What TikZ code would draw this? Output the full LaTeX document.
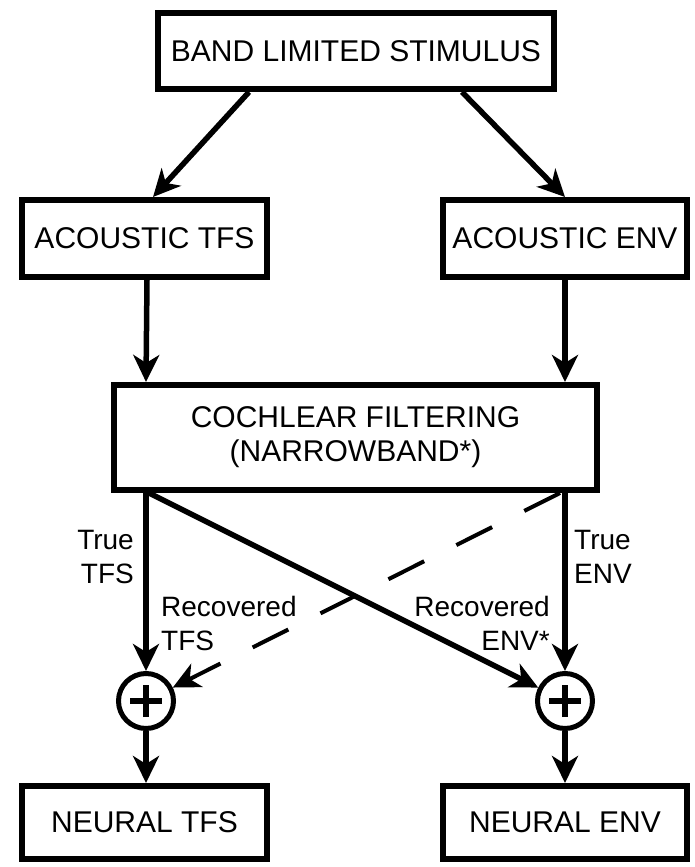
\documentclass[tikz,border=0pt]{standalone}
\usepackage{fontspec}
\setmainfont{Liberation Sans}
\usetikzlibrary{arrows.meta}
\begin{document}
\begin{tikzpicture}[x=1pt,y=-1pt,
  box/.style={draw, line width=6pt, inner sep=0pt, align=center,
              font=\fontsize{30}{34}\selectfont},
  arr/.style={line width=5.5pt, -{Stealth[length=27pt,width=26pt,inset=8pt]}},
  darr/.style={line width=4pt, dash pattern=on 40pt off 36pt,
               -{Stealth[length=27pt,width=26pt,inset=8pt]}},
  lbl/.style={inner sep=0pt, font=\fontsize{28}{34}\selectfont},
  sumnode/.style={circle, draw, line width=5pt, minimum size=55pt, inner sep=0pt},
  plusbar/.style={line width=6pt}]
\useasboundingbox (0,0) rectangle (694,867);

\node[box, minimum width=396pt, minimum height=76pt] (top) at (356,51) {BAND LIMITED STIMULUS};
\node[box, minimum width=245pt, minimum height=77pt] (acT) at (144.5,238.5) {ACOUSTIC TFS};
\node[box, minimum width=244pt, minimum height=77pt] (acE) at (565,238.5) {ACOUSTIC ENV};
\node[box, minimum width=483pt, minimum height=105pt] (coch) at (355.5,437.5) {COCHLEAR FILTERING\\(NARROWBAND*)};
\node[sumnode] (c1) at (146,701) {};
\node[sumnode] (c2) at (565,701) {};
\node[box, minimum width=245pt, minimum height=73pt] (nT) at (144.5,822.5) {NEURAL TFS};
\node[box, minimum width=244pt, minimum height=73pt] (nE) at (565,822.5) {NEURAL ENV};

% plus signs
\draw[plusbar] ([xshift=-16pt]c1.center) -- ([xshift=16pt]c1.center);
\draw[plusbar] ([yshift=-16pt]c1.center) -- ([yshift=16pt]c1.center);
\draw[plusbar] ([xshift=-16pt]c2.center) -- ([xshift=16pt]c2.center);
\draw[plusbar] ([yshift=-16pt]c2.center) -- ([yshift=16pt]c2.center);

% top arrows
\draw[arr] ([xshift=-107pt]top.south) -- ([xshift=8.5pt]acT.north);
\draw[arr] ([xshift=106pt]top.south) -- (acE.north);

% acoustic to cochlear
\draw[arr] ([xshift=2.5pt]acT.south) -- (coch.north -| c1.center);
\draw[arr] (acE.south) -- (coch.north -| c2.center);

% cochlear to sums
\draw[arr] (coch.south -| c1.center) -- (c1);
\draw[arr] (coch.south -| c2.center) -- (c2);
\draw[arr] ([xshift=38pt]coch.south west) -- (c2);
\draw[darr] ([xshift=-40pt]coch.south east) -- (c1);

% sums to neural
\draw[arr] (c1) -- (nT.north -| c1.center);
\draw[arr] (c2) -- (nE.north -| c2.center);

% labels
\node[lbl, anchor=east, align=right] (lTT) at (134,557) {True\\TFS};
\node[lbl, anchor=west, align=left] (lTE) at (574,557) {True\\ENV};
\node[lbl, anchor=west, align=left] (lRT) at (161,623) {Recovered\\TFS};
\node[lbl, anchor=east, align=right] (lRE) at (550,623) {Recovered\\ENV*};
\end{tikzpicture}
\end{document}
